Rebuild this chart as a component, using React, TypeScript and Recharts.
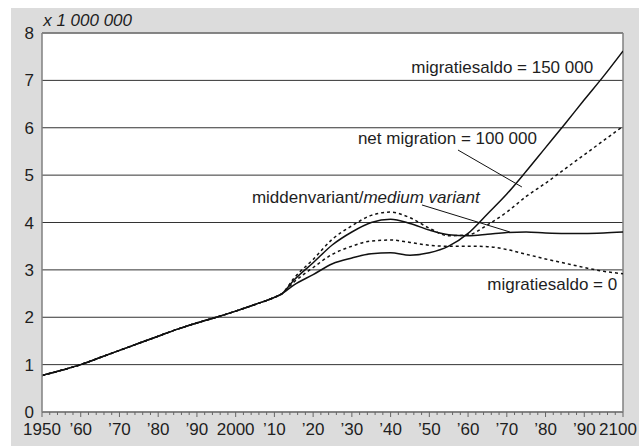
import React from 'react';
import { LineChart, Line, XAxis, YAxis, CartesianGrid, ReferenceLine, ReferenceDot } from 'recharts';

// History (shared by all variants)
const historyYears = [1950, 1955, 1960, 1965, 1970, 1975, 1980, 1985, 1990, 1995, 2000, 2005, 2010, 2012];
const historyValues = [0.77, 0.88, 1.0, 1.15, 1.3, 1.45, 1.6, 1.75, 1.88, 2.0, 2.13, 2.27, 2.42, 2.5];

// Projections
const projYears = [2015, 2020, 2025, 2030, 2035, 2040, 2045, 2050, 2055, 2060, 2065, 2070, 2075, 2080, 2085, 2090, 2095, 2100];
const migration150k = [2.68, 2.9, 3.13, 3.25, 3.34, 3.36, 3.31, 3.36, 3.5, 3.77, 4.18, 4.6, 5.08, 5.58, 6.08, 6.59, 7.09, 7.62];
const mediumVariant = [2.78, 3.15, 3.53, 3.8, 4.0, 4.07, 3.98, 3.84, 3.74, 3.72, 3.75, 3.79, 3.8, 3.78, 3.77, 3.77, 3.78, 3.8];
const migration100k = [2.82, 3.22, 3.65, 3.93, 4.15, 4.22, 4.1, 3.88, 3.72, 3.74, 3.95, 4.22, 4.55, 4.83, 5.13, 5.43, 5.73, 6.03];
const migrationZero = [2.74, 3.05, 3.33, 3.5, 3.61, 3.63, 3.58, 3.52, 3.5, 3.5, 3.49, 3.43, 3.33, 3.23, 3.14, 3.05, 2.97, 2.92];

const majorTicks = [1950, 1960, 1970, 1980, 1990, 2000, 2010, 2020, 2030, 2040, 2050, 2060, 2070, 2080, 2090, 2100];
const majorTickLabels = ['1950', '\u201960', '\u201970', '\u201980', '\u201990', '2000', '\u201910', '\u201920', '\u201930', '\u201940', '\u201950', '\u201960', '\u201970', '\u201980', '\u201990', '2100'];
const yTicks = [0, 1, 2, 3, 4, 5, 6, 7, 8];

const minorTicks: number[] = [];
for (let y = 1950; y <= 2100; y += 2) minorTicks.push(y);

const data = [
  ...historyYears.map((year, i) => ({
    year,
    m150: historyValues[i],
    medium: historyValues[i],
    m100: historyValues[i],
    m0: historyValues[i],
  })),
  ...projYears.map((year, i) => ({
    year,
    m150: migration150k[i],
    medium: mediumVariant[i],
    m100: migration100k[i],
    m0: migrationZero[i],
  })),
];

const FONT = '"Liberation Sans", Arial, Helvetica, sans-serif';
const TEXT = '#1e1e1e';
const BORDER = '#808080';

const XTick = (props: any) => {
  const { x, y, payload } = props;
  const v = payload.value as number;
  const idx = majorTicks.indexOf(v);
  const major = idx >= 0;
  return (
    <g>
      <line x1={x} x2={x} y1={y} y2={y + (major ? 5 : 3)} stroke="#666" strokeWidth={1} />
      {major && (
        <text x={v === 2100 ? x - 5 : x} y={y + 23} textAnchor="middle" fontSize={17} fill={TEXT} fontFamily={FONT}>
          {majorTickLabels[idx]}
        </text>
      )}
    </g>
  );
};

const textShape = (content: React.ReactNode, anchor: 'start' | 'end', italic = false) => (p: any) => (
  <text
    x={p.cx}
    y={p.cy}
    textAnchor={anchor}
    fontSize={17}
    fill={TEXT}
    fontFamily={FONT}
    fontStyle={italic ? 'italic' : 'normal'}
  >
    {content}
  </text>
);

export default function App() {
  return (
    <div style={{ position: 'absolute', left: 0, top: 0, width: 639, height: 446, background: '#fff' }}>
      <div style={{ position: 'absolute', left: 11, top: 8, width: 628, height: 438, background: '#dcdcdc' }}>
        <LineChart
          width={628}
          height={438}
          data={data}
          margin={{ top: 25, right: 16, bottom: 0, left: 0 }}
          style={{ fontFamily: FONT }}
        >
          <CartesianGrid vertical={false} stroke="#333" strokeWidth={1} fill="#fff" fillOpacity={1} />
          <XAxis
            dataKey="year"
            type="number"
            domain={[1950, 2100]}
            ticks={minorTicks}
            interval={0}
            tickLine={false}
            tickSize={0}
            tickMargin={0}
            height={34}
            axisLine={{ stroke: BORDER, strokeWidth: 1.5 }}
            tick={<XTick />}
            allowDataOverflow
          />
          <YAxis
            type="number"
            domain={[0, 8]}
            ticks={yTicks}
            interval={0}
            width={31}
            tickLine={false}
            tickSize={0}
            tickMargin={8}
            axisLine={{ stroke: BORDER, strokeWidth: 1.5 }}
            tick={{ fontSize: 17, fill: TEXT, fontFamily: FONT }}
          />
          <ReferenceLine y={8} stroke={BORDER} strokeWidth={1.5} />
          <ReferenceLine x={2100} stroke={BORDER} strokeWidth={1.5} />

          <ReferenceLine
            segment={[{ x: 2057.4, y: 5.53 }, { x: 2073.9, y: 4.75 }]}
            stroke="#111"
            strokeWidth={1}
          />
          <ReferenceLine
            segment={[{ x: 2048.1, y: 4.37 }, { x: 2070.8, y: 3.8 }]}
            stroke="#111"
            strokeWidth={1}
          />

          <Line type="monotone" dataKey="m0" stroke="#111" strokeWidth={1.5} strokeDasharray="3 3" dot={false} isAnimationActive={false} />
          <Line type="monotone" dataKey="m100" stroke="#111" strokeWidth={1.5} strokeDasharray="3 3" dot={false} isAnimationActive={false} />
          <Line type="monotone" dataKey="medium" stroke="#111" strokeWidth={1.5} dot={false} isAnimationActive={false} />
          <Line type="monotone" dataKey="m150" stroke="#111" strokeWidth={1.5} dot={false} isAnimationActive={false} />

          <ReferenceDot x={1950.3} y={8.148} r={0} ifOverflow="visible" shape={textShape('x 1 000 000', 'start', true)} />
          <ReferenceDot x={2092.3} y={7.156} r={0} ifOverflow="visible" shape={textShape('migratiesaldo = 150 000', 'end')} />
          <ReferenceDot x={2077.8} y={5.657} r={0} ifOverflow="visible" shape={textShape('net migration = 100 000', 'end')} />
          <ReferenceDot
            x={2004.2}
            y={4.412}
            r={0}
            ifOverflow="visible"
            shape={textShape(
              <>
                <tspan>middenvariant/</tspan>
                <tspan fontStyle="italic">medium variant</tspan>
              </>,
              'start'
            )}
          />
          <ReferenceDot x={2098.5} y={2.565} r={0} ifOverflow="visible" shape={textShape('migratiesaldo = 0', 'end')} />
        </LineChart>
      </div>
    </div>
  );
}
